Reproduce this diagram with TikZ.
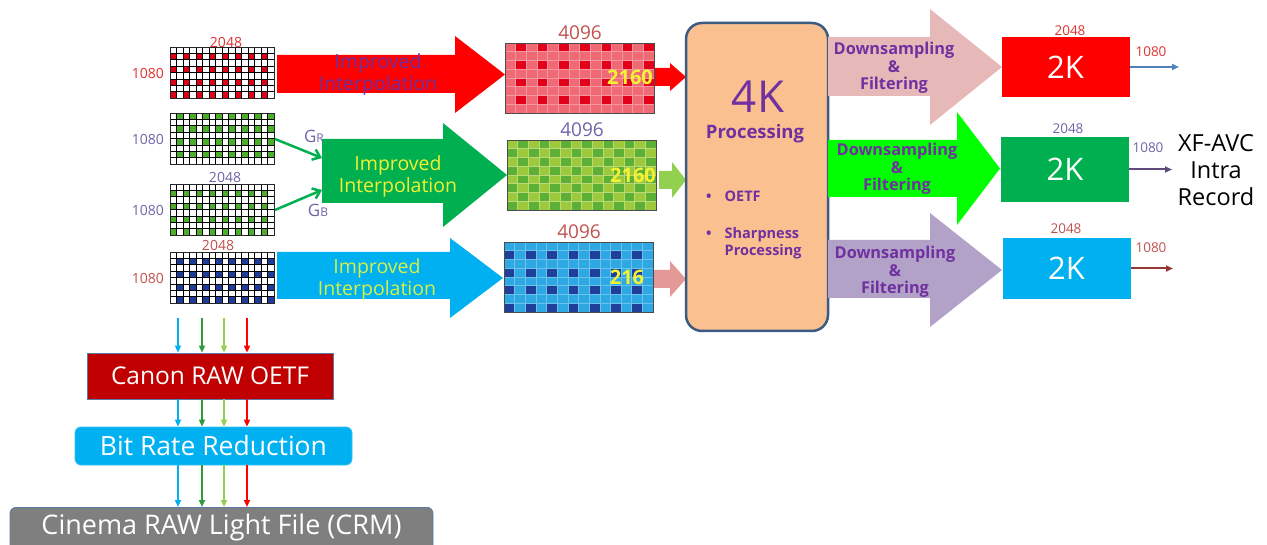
\documentclass[tikz,border=0pt]{standalone}
\usepackage{fontspec}
\setmainfont{Open Sans}
\usetikzlibrary{arrows.meta,positioning,calc}
\definecolor{procPurple}{HTML}{7030A0}
\definecolor{labRed}{HTML}{E0312F}
\definecolor{labGrey}{HTML}{6F64A6}
\definecolor{labBrown}{HTML}{C0504D}
\definecolor{procFill}{HTML}{FAC090}
\definecolor{procEdge}{HTML}{3B5B82}
\definecolor{stageEdge}{HTML}{5A7AA8}
\definecolor{gArrow}{HTML}{00B050}
\definecolor{skyBlue}{HTML}{00B0F0}
\definecolor{darkGreen}{HTML}{2E9A3A}
\definecolor{lightGreen}{HTML}{92D050}
\definecolor{rawRedC}{HTML}{E00018}
\definecolor{rawGreenC}{HTML}{4CAF2A}
\definecolor{rawBlueC}{HTML}{1F3C98}
\definecolor{quadRedL}{HTML}{F06A76}
\definecolor{quadRedD}{HTML}{E3001B}
\definecolor{quadGreenL}{HTML}{9DC93C}
\definecolor{quadGreenD}{HTML}{5BB035}
\definecolor{quadBlueL}{HTML}{2EA8E2}
\definecolor{quadBlueD}{HTML}{203F9A}
\definecolor{pinkArrow}{HTML}{E39A97}
\definecolor{downPink}{HTML}{E6B9B8}
\definecolor{downGreen}{HTML}{00FF00}
\definecolor{downPurple}{HTML}{B3A2C7}
\definecolor{textYellow}{HTML}{F2F233}
\definecolor{textLime}{HTML}{D6F046}
\definecolor{outBlue}{HTML}{4F81BD}
\definecolor{outPurple}{HTML}{604A7B}
\definecolor{outRed}{HTML}{953735}
\definecolor{canonRed}{HTML}{C00000}
\definecolor{crmGrey}{HTML}{7F7F7F}

% Bayer sensor grid: x, y (top left), mark colour, condition on \r and \c
\newcommand{\rawgrid}[4]{%
  \foreach \c in {0,...,15}{\foreach \r in {0,...,7}{%
    \pgfmathtruncatemacro{\hit}{#4}%
    \ifnum\hit=1 \def\cellcol{#3}\else\def\cellcol{white}\fi
    \draw[rawcell, fill=\cellcol] ({#1+6.5*\c},{#2+6.375*\r}) rectangle ++(6.5,6.375);
  }}}
% interpolated 4K grid: x, y, light, dark, condition
\newcommand{\quadgrid}[5]{%
  \foreach \c in {0,...,13}{\foreach \r in {0,...,7}{%
    \pgfmathtruncatemacro{\hit}{#5}%
    \ifnum\hit=1 \def\cellcol{#4}\else\def\cellcol{#3}\fi
    \draw[quadcell, draw=#3!70!white, fill=\cellcol] ({#1+10.643*\c},{#2+8.75*\r}) rectangle ++(10.643,8.75);
  }}}
% block arrow: colour, x0, body top, body bottom, head x, head top, head bottom, tip x
\newcommand{\blockarrow}[8]{%
  \fill[#1] (#2,#3) -- (#5,#3) -- (#5,#6) -- (#8,{(#6+#7)/2}) -- (#5,#7) -- (#5,#4) -- (#2,#4) -- cycle;}

\begin{document}
\begin{tikzpicture}[x=1pt, y=-1pt,
  rawframe/.style={rectangle, draw=black!85, line width=1pt, minimum width=104pt, minimum height=51pt, inner sep=0pt, anchor=north west},
  quadframe/.style={rectangle, draw=black!70, line width=1.2pt, minimum width=149pt, minimum height=70pt, inner sep=0pt, anchor=north west},
  rawcell/.style={draw=black, line width=0.6pt},
  quadcell/.style={line width=0.5pt},
  dimlab/.style={font=\fontsize{14}{14}\selectfont, inner sep=0pt},
  bigdim/.style={font=\fontsize{19}{19}\selectfont, inner sep=0pt},
  linedim/.style={font=\bfseries\fontsize{20}{20}\selectfont, text=textYellow, inner sep=0pt},
  interp/.style={font=\fontsize{19.5}{22}\selectfont, align=center, inner sep=0pt},
  downs/.style={font=\bfseries\fontsize{16.3}{17.5}\selectfont, text=procPurple, align=center, inner sep=0pt},
  procbox/.style={rectangle, rounded corners=16pt, draw=procEdge, fill=procFill, line width=2.5pt, minimum width=142pt, minimum height=308pt},
  twok/.style={rectangle, minimum width=128pt, minimum height=61pt, text=white, font=\fontsize{31}{31}\selectfont},
  stagebox/.style={rectangle, draw=stageEdge, line width=0.8pt, text=white},
  flow/.style={-{Triangle[length=7pt,width=6pt]}, line width=2pt},
  gflow/.style={-{Straight Barb[length=7pt,width=11pt]}, line width=2.5pt, draw=gArrow}
]
\useasboundingbox (0,0) rectangle (1267,545);

% sensor planes
\rawgrid{170}{47}{rawRedC}{and(mod(\r,2)==1,mod(\c,2)==0)}
\rawgrid{170}{113}{rawGreenC}{and(mod(\r,2)==0,mod(\c,2)==1)}
\rawgrid{170}{184}{rawGreenC}{and(mod(\r,2)==1,mod(\c,2)==0)}
\rawgrid{170}{252}{rawBlueC}{and(mod(\r,2)==1,mod(\c,2)==1)}
\node[rawframe] (rawRed) at (170,47) {};
\node[rawframe] (rawGR) at (170,113) {};
\node[rawframe] (rawGB) at (170,184) {};
\node[rawframe] (rawBlue) at (170,252) {};
\node[dimlab, text=labRed] at (226,42) {2048};
\node[dimlab, text=labRed, left=6pt of rawRed] {1080};
\node[dimlab, text=labGrey, left=6pt of rawGR] {1080};
\node[dimlab, text=labGrey] at (225,177) {2048};
\node[dimlab, text=labGrey, left=6pt of rawGB] {1080};
\node[dimlab, text=labBrown] at (218,245) {2048};
\node[dimlab, text=labBrown, left=6pt of rawBlue] {1080};

% interpolation
\blockarrow{red}{277}{55}{93}{455}{36}{113}{505}
\blockarrow{gArrow}{322}{139}{203}{443}{123}{227}{507}
\blockarrow{skyBlue}{277}{252}{299}{450}{238}{318}{503}
\node[interp, text=procPurple] (interpRed) at (378,74) {Improved\\Interpolation};
\node[interp, text=textYellow] (interpGreen) at (398,176) {Improved\\Interpolation};
\node[interp, text=textLime] (interpBlue) at (377,279) {Improved\\Interpolation};
\coordinate (gInR) at (322,158);
\coordinate (gInB) at (322,190);
\draw[gflow] (rawGR.east) -- (gInR);
\draw[gflow] (rawGB.east) -- (gInB);
\node[text=labGrey, font=\fontsize{17}{17}\selectfont, inner sep=0pt] (labGR) at (314,136) {G{\fontsize{12}{12}\selectfont R}};
\node[text=labGrey, font=\fontsize{17}{17}\selectfont, inner sep=0pt] (labGB) at (318,210) {G{\fontsize{12}{12}\selectfont B}};

% 4K planes
\quadgrid{505}{43}{quadRedL}{quadRedD}{and(mod(\r,2)==0,mod(\c,2)==1)}
\quadgrid{507}{140}{quadGreenL}{quadGreenD}{mod(\r+\c,2)==1}
\quadgrid{504}{242}{quadBlueL}{quadBlueD}{and(mod(\r,2)==1,mod(\c,2)==0)}
\node[quadframe] (quadRed) at (505,43) {};
\node[quadframe] (quadGreen) at (507,140) {};
\node[quadframe] (quadBlue) at (504,242) {};
\node[bigdim, text=labBrown, above=3pt of quadRed] {4096};
\node[bigdim, text=labGrey, above=3pt of quadGreen] {4096};
\node[bigdim, text=labBrown, above=3pt of quadBlue] {4096};
\node[linedim] at (630,77) {2160};
\node[linedim] at (633,175) {2160};
\node[linedim] at (627,277) {216};
\blockarrow{red}{655}{68}{86}{670}{63}{91}{686}
\blockarrow{lightGreen}{659}{171}{189}{672}{162}{198}{686}
\blockarrow{pinkArrow}{654}{270}{288}{670}{261}{297}{686}

% 4K processing
\node[procbox] (procBox) at (757,177) {};
\node[text=procPurple, font=\fontsize{44}{44}\selectfont, inner sep=0pt] (procTitle) at (758,97) {4K};
\node[text=procPurple, font=\bfseries\fontsize{18.5}{18.5}\selectfont, inner sep=0pt] (procSub) at (755,134) {Processing};
\node[text=procPurple, font=\bfseries\fontsize{14.5}{17}\selectfont, inner sep=0pt, anchor=north west] (procList) at (706,189)
  {\begin{tabular}{@{}l@{\hspace{13pt}}l@{}}\textbullet & OETF\\[20pt]\textbullet & Sharpness\\ & Processing\end{tabular}};

% downsampling
\blockarrow{downPink}{828}{37}{96}{930}{9}{125}{1002}
\blockarrow{downGreen}{828}{140}{197}{957}{112}{225}{1000}
\blockarrow{downPurple}{828}{240}{298}{930}{213}{327}{1002}
\node[downs] (downRed) at (894,68) {Downsampling\\\&\\Filtering};
\node[downs] (downGreen) at (897,169) {Downsampling\\\&\\Filtering};
\node[downs] (downBlue) at (895,272) {Downsampling\\\&\\Filtering};

% 2K outputs
\node[twok, fill=red, minimum height=60pt] (twoKRed) at (1065.5,67) {2K};
\node[twok, fill=gArrow, minimum height=65pt] (twoKGreen) at (1065,169.5) {2K};
\node[twok, fill=skyBlue] (twoKBlue) at (1066.5,268.5) {2K};
\node[dimlab, text=labRed, font=\fontsize{13.5}{13.5}\selectfont] at (1070,31) {2048};
\node[dimlab, text=labGrey, font=\fontsize{13.5}{13.5}\selectfont] at (1068,129) {2048};
\node[dimlab, text=labBrown, font=\fontsize{13.5}{13.5}\selectfont] at (1066,229) {2048};
\node[dimlab, text=labRed, font=\fontsize{13.5}{13.5}\selectfont] at (1151,52) {1080};
\node[dimlab, text=labGrey, font=\fontsize{13.5}{13.5}\selectfont] at (1148,148) {1080};
\node[dimlab, text=labBrown, font=\fontsize{13.5}{13.5}\selectfont] at (1151,248) {1080};
\coordinate (endRed) at (1179,67);
\coordinate (endGreen) at (1172,169.5);
\coordinate (endBlue) at (1173,268.5);
\draw[flow, outBlue] (twoKRed.east) -- (endRed);
\draw[flow, outPurple] (twoKGreen.east) -- (endGreen);
\draw[flow, outRed] (twoKBlue.east) -- (endBlue);
\node[font=\fontsize{23.5}{27}\selectfont, align=center, inner sep=0pt] (xfavc) at (1216,170) {XF-AVC\\Intra\\Record};

% RAW recording path
\node[stagebox, fill=canonRed, minimum width=246pt, minimum height=46pt, font=\fontsize{24.5}{24.5}\selectfont] (canonOetf) at (210,376) {Canon RAW OETF};
\node[stagebox, fill=skyBlue, draw=skyBlue!80!white, rounded corners=6pt, minimum width=277pt, minimum height=38pt, font=\fontsize{26.5}{26.5}\selectfont] (bitRate) at (213.5,446) {Bit Rate Reduction};
\node[stagebox, fill=crmGrey, rounded corners=6pt, minimum width=423pt, minimum height=48pt, font=\fontsize{27}{27}\selectfont, anchor=north, text depth=14pt] (crmFile) at (221.5,507) {Cinema RAW Light File (CRM)};
\coordinate (flowTop) at (0,318);
\foreach \x/\col in {178/skyBlue, 202/darkGreen, 224/lightGreen, 247/red}{
  \draw[flow, \col] (\x,0 |- flowTop) -- (\x,0 |- canonOetf.north);
  \draw[flow, \col] (\x,0 |- canonOetf.south) -- (\x,0 |- bitRate.north);
  \draw[flow, \col] (\x,0 |- bitRate.south) -- (\x,0 |- crmFile.north);
}
\end{tikzpicture}
\end{document}
